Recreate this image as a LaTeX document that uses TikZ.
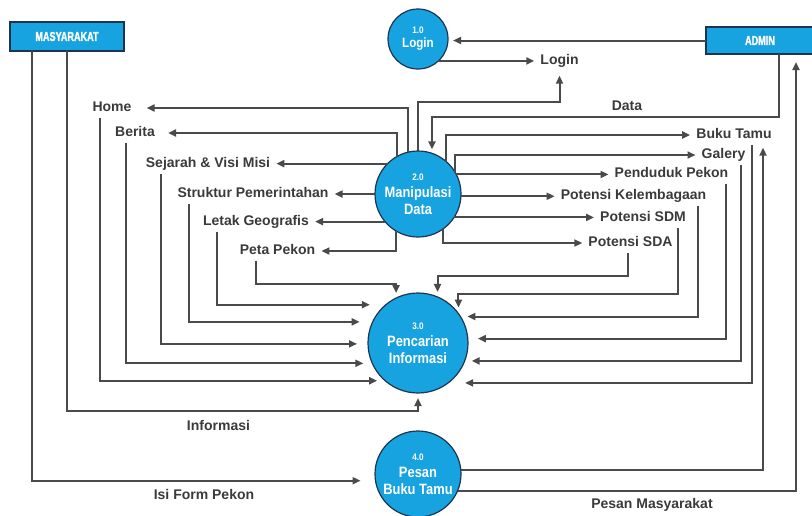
\documentclass[tikz,border=0pt]{standalone}
\usepackage{fontspec}
\usepackage{tikz}
\setmainfont{Liberation Sans}
\newfontfamily\condf{Liberation Sans Bold}[FakeStretch=0.86]
\newfontfamily\boxf{Liberation Sans Bold}[FakeStretch=0.70, FakeBold=1.6]
\usetikzlibrary{arrows.meta}
\definecolor{dfdblue}{HTML}{17A2E0}
\definecolor{rim}{HTML}{1E3550}
\definecolor{wire}{HTML}{4A4A4A}
\definecolor{ink}{HTML}{3A3A3A}
\newcommand{\procnr}{\fontsize{9.5}{10}\selectfont}

\begin{document}
\begin{tikzpicture}[x=1pt, y=-1pt,
  proc/.style={circle, draw=rim, line width=1.2pt, fill=dfdblue, text=white, align=center,
    inner sep=0pt, outer sep=0pt, font=\condf\fontsize{15}{17}\selectfont},
  ent/.style={rectangle, draw=rim, line width=1.6pt, fill=dfdblue, text=white,
    inner sep=0pt, outer sep=0pt, font=\boxf\fontsize{13}{14}\selectfont},
  lbl/.style={text=ink, font=\bfseries\fontsize{14}{16}\selectfont, inner xsep=6pt,
    inner ysep=3pt, text height=10pt, text depth=3pt},
  flow/.style={draw=wire, line width=2pt, -{Triangle[length=8pt,width=7pt]}}]
\useasboundingbox (0,0) rectangle (812,515);

% external entities
\node[ent, minimum width=114pt, minimum height=29pt] (masy) at (67,36.5) {MASYARAKAT};
\node[ent, minimum width=108pt, minimum height=27pt] (admin) at (760,40.5) {ADMIN};

% processes
\node[proc, minimum size=60pt, font=\condf\fontsize{13.5}{14}\selectfont] (c1) at (418,39) {{\procnr 1.0}\\Login};
\node[proc, minimum size=86pt] (c2) at (418,194) {{\procnr 2.0}\\Manipulasi\\Data};
\node[proc, minimum size=100pt] (c3) at (418,343) {{\procnr 3.0}\\Pencarian\\Informasi};
\node[proc, minimum size=86pt] (c4) at (418,474) {{\procnr 4.0}\\Pesan\\Buku Tamu};

% data labels
\node[lbl, inner xsep=15pt] (home) at (112,108) {Home};
\node[lbl, inner xsep=13pt] (berita) at (135,133) {Berita};
\node[lbl] (sejarah) at (208,164) {Sejarah \& Visi Misi};
\node[lbl] (struktur) at (253,194) {Struktur Pemerintahan};
\node[lbl] (letak) at (256,222) {Letak Geografis};
\node[lbl] (peta) at (277.5,251) {Peta Pekon};
\node[lbl] (bukutamu) at (734,135) {Buku Tamu};
\node[lbl] (galery) at (723.5,155) {Galery};
\node[lbl] (penduduk) at (671.5,174) {Penduduk Pekon};
\node[lbl] (kelembagaan) at (633.5,196) {Potensi Kelembagaan};
\node[lbl] (sdm) at (643,218) {Potensi SDM};
\node[lbl] (sda) at (630.5,243) {Potensi SDA};
\node[lbl] (loginlbl) at (559.5,61) {Login};
\node[lbl] (data) at (627,107) {Data};
\node[lbl] (informasi) at (218.5,427) {Informasi};
\node[lbl] (isiform) at (204,496) {Isi Form Pekon};
\node[lbl] (pesanmasy) at (652,505) {Pesan Masyarakat};

% login
\draw[flow, shorten >=5pt] (admin.west) -- (admin.west -| c1.east);
\draw[flow] (c1.-47) -- (c1.-47 -| loginlbl.west);
\draw[flow, shorten >=5pt] (c2.north) |- (loginlbl.south |- 0,102) -- (loginlbl.south);
\draw[flow, shorten >=4pt] (admin.south -| 779,0) |- (c2.71 |- 0,117) -- (c2.71);

% manipulasi data -> halaman
\draw[flow] (c2.103.4) |- (home.east);
\draw[flow] (c2.120.8) |- (berita.east);
\draw[flow] (c2.135.8) -- (c2.135.8 -| sejarah.east);
\draw[flow] (c2.west) -- (struktur.east);
\draw[flow] (c2.220.6) -- (c2.220.6 -| letak.east);
\draw[flow] (c2.239.2) |- (peta.east);
\draw[flow] (c2.49.4) |- (bukutamu.west);
\draw[flow] (c2.30.6) |- (galery.west);
\draw[flow] (c2.27.7) -- (c2.27.7 -| penduduk.west);
\draw[flow] (c2.-3) -- (c2.-3 -| kelembagaan.west);
\draw[flow] (c2.-33.9) -- (c2.-33.9 -| sdm.west);
\draw[flow] (c2.-54.4) |- (sda.west);

% halaman -> pencarian informasi
\draw[flow, shorten >=5pt] (peta.south -| 256,0) |- (c3.116.1 |- 0,284) -- (c3.116.1);
\draw[flow, shorten >=16pt] (letak.south -| 217,0) |- (c3.130.5);
\draw[flow, shorten >=13pt] (struktur.south -| 189,0) |- (c3.155.2);
\draw[flow, shorten >=11pt] (sejarah.south -| 161,0) |- (c3.181.1);
\draw[flow, shorten >=9pt] (berita.south -| 126,0) |- (c3.204.8);
\draw[flow, shorten >=8pt] (home.south -| 100,0) |- (c3.229.5);
\draw[flow, shorten >=5pt] (sda.south -| 628,0) |- (c3.67.6 |- 0,276) -- (c3.67.6);
\draw[flow, shorten >=6pt] (sdm.south -| 678,0) |- (c3.36.9 |- 0,294) -- (c3.36.9);
\draw[flow, shorten >=7pt] (kelembagaan.south -| 698,0) |- (c3.32.7);
\draw[flow, shorten >=10pt] (penduduk.south -| 726,0) |- (c3.5.7);
\draw[flow, shorten >=7pt] (galery.south -| 741,0) |- (c3.-21.1);
\draw[flow, shorten >=17pt] (bukutamu.south -| 752,0) |- (c3.-53.1);

% masyarakat
\draw[flow, shorten >=5pt] (masy.south) |- (c3.south |- 0,411) -- (c3.south);
\draw[flow, shorten >=15pt] (masy.south -| 32,0) |- (c4.189.4);

% pesan buku tamu
\draw[flow, shorten >=3pt] (c4.5.3) -| (bukutamu.south -| 763,0);
\draw[flow, shorten >=8pt] (c4.-23.3) -| (admin.south -| 796,0);
\end{tikzpicture}
\end{document}
